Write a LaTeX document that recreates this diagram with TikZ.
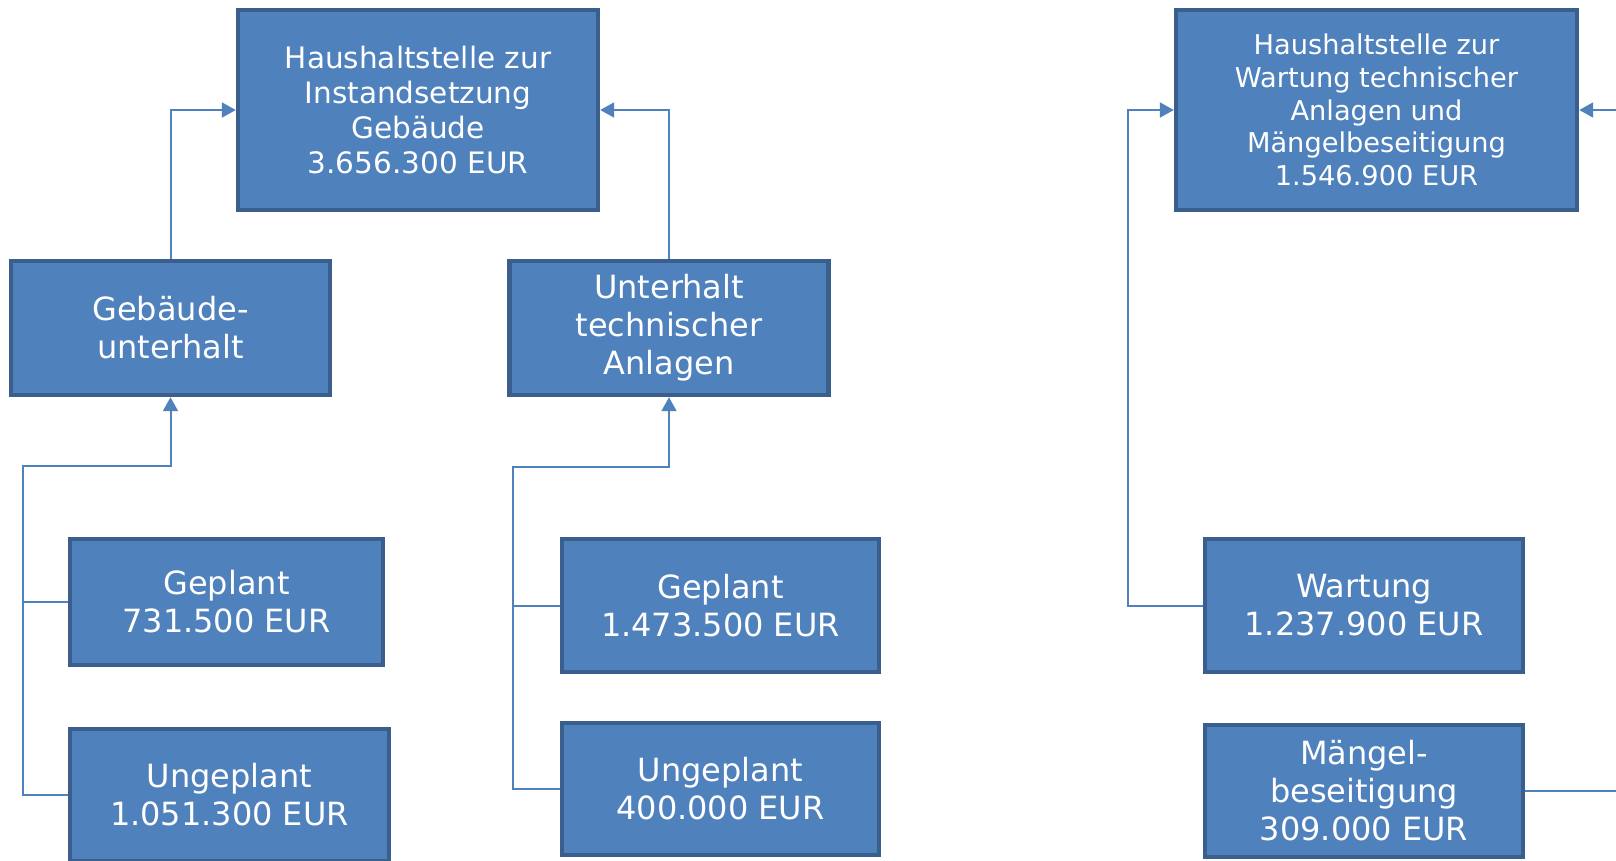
\documentclass[tikz,border=0pt]{standalone}
\usepackage{fontspec}
\setmainfont{DejaVu Sans}
\usepackage{tikz}
\usetikzlibrary{arrows.meta}
\definecolor{boxblue}{HTML}{4F81BD}
\definecolor{boxedge}{HTML}{3A5F8C}
\tikzset{
  every picture/.style={line join=miter, >={Triangle[length=0.28cm,width=0.3cm]}},
  block/.style={rectangle, fill=boxblue, draw=boxedge, line width=0.09cm, text=white, align=center, inner sep=0pt},
  bigfont/.style={font=\fontsize{18.2}{21.6}\selectfont},
  midfont/.style={font=\fontsize{16.8}{19.9}\selectfont},
  smallfont/.style={font=\fontsize{15.5}{18.6}\selectfont},
  link/.style={draw=boxblue, line width=0.04cm},
}

\begin{document}
\begin{tikzpicture}[x=0.02cm,y=-0.02cm]
\useasboundingbox (0,0) rectangle (1616,860);
\node[block,midfont,minimum width=7.2cm,minimum height=4.0cm] (hhinst) at (418,110) {Haushaltstelle zur\\Instandsetzung\\Gebäude\\3.656.300 EUR};
\node[block,smallfont,minimum width=8.02cm,minimum height=4.0cm] (hhwart) at (1376.5,110) {Haushaltstelle zur\\Wartung technischer\\Anlagen und\\Mängelbeseitigung\\1.546.900 EUR};
\node[block,bigfont,minimum width=6.38cm,minimum height=2.68cm] (gebunt) at (170.5,328) {Gebäude-\\unterhalt};
\node[block,bigfont,minimum width=6.38cm,minimum height=2.68cm] (techunt) at (669,328) {Unterhalt\\technischer\\Anlagen};
\node[block,bigfont,minimum width=6.26cm,minimum height=2.52cm] (gebgepl) at (226.5,602) {Geplant\\731.500 EUR};
\node[block,bigfont,minimum width=6.38cm,minimum height=2.64cm] (gebungepl) at (229.5,795) {Ungeplant\\1.051.300 EUR};
\node[block,bigfont,minimum width=6.34cm,minimum height=2.66cm] (techgepl) at (720.5,605.5) {Geplant\\1.473.500 EUR};
\node[block,bigfont,minimum width=6.34cm,minimum height=2.64cm] (techungepl) at (720.5,789) {Ungeplant\\400.000 EUR};
\node[block,bigfont,minimum width=6.36cm,minimum height=2.66cm] (wartung) at (1364,605.5) {Wartung\\1.237.900 EUR};
\node[block,bigfont,minimum width=6.36cm,minimum height=2.64cm] (maengel) at (1364,791) {Mängel-\\beseitigung\\309.000 EUR};
\coordinate (gebfork) at (23,466);
\coordinate (techfork) at (513,467);
\coordinate (wartbend) at (1128,110);
\coordinate (rightin) at (1630,110);
\coordinate (rightout) at (1630,791);
\draw[link,->] (gebunt.north) |- (hhinst.west);
\draw[link,->] (techunt.north) |- (hhinst.east);
\draw[link] (gebgepl.west) -| (gebfork);
\draw[link,->] (gebungepl.west) -| (gebfork) -| (gebunt.south);
\draw[link] (techgepl.west) -| (techfork);
\draw[link,->] (techungepl.west) -| (techfork) -| (techunt.south);
\draw[link,->] (wartung.west) -| (wartbend) -- (hhwart.west);
\draw[link,->] (rightin) -- (hhwart.east);
\draw[link] (maengel.east) -- (rightout);
\end{tikzpicture}
\end{document}
